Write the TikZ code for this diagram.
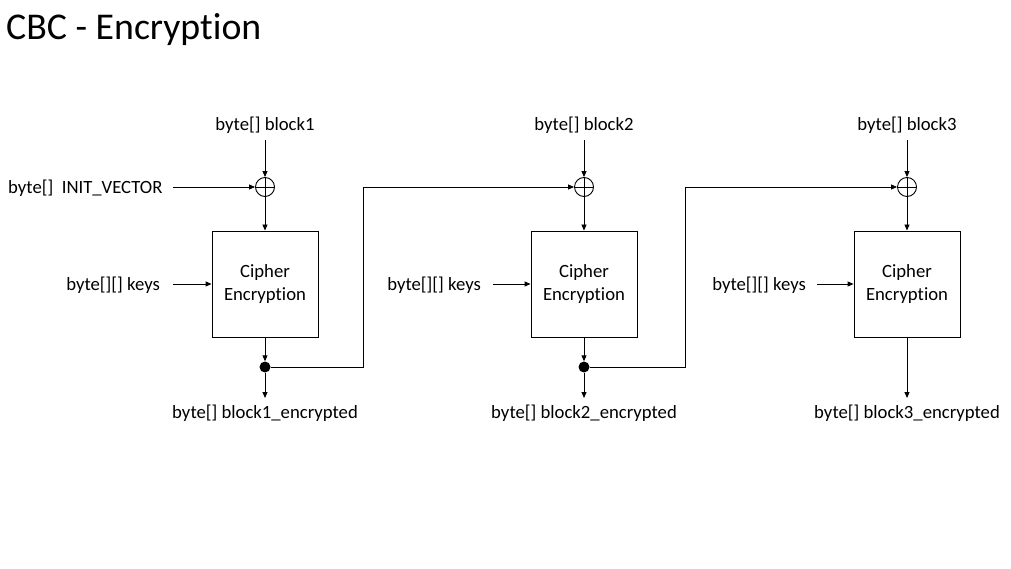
\documentclass[tikz,border=0pt]{standalone}
\usepackage{fontspec}
\setmainfont{Carlito}[Ligatures=NoCommon]
\usetikzlibrary{arrows.meta}
\begin{document}
\begin{tikzpicture}[x=1pt,y=-1pt,
  lbl/.style={font=\fontsize{18.7}{22}\selectfont, inner sep=0pt},
  cipher/.style={draw, line width=0.9pt, minimum width=106pt, minimum height=106pt,
    align=center, font=\fontsize{18.7}{23}\selectfont},
  xorop/.style={draw, circle, line width=0.9pt, minimum size=19pt, inner sep=0pt,
    path picture={\draw[line width=0.9pt] (path picture bounding box.north) -- (path picture bounding box.south)
      (path picture bounding box.west) -- (path picture bounding box.east);}},
  junction/.style={circle, fill=black, inner sep=0pt, minimum size=11pt},
  arr/.style={line width=0.9pt, -{Triangle[length=6pt,width=5pt]}}]
\useasboundingbox (0,0) rectangle (1011,569);

% title
\node[anchor=west, inner sep=0pt, font=\fontsize{37.8}{44}\selectfont] (title) at (6,30) {CBC - Encryption};

% stage 1
\node[lbl] (in1) at (265,125) {byte[] block1};
\node[xorop] (x1) at (265,187) {};
\node[lbl, anchor=west] (iv) at (8,188) {byte[]\ \ INIT\_VECTOR};
\node[cipher] (c1) at (265,284) {Cipher\\Encryption};
\node[lbl, anchor=east] (k1) at (160,285) {byte[][] keys};
\node[junction] (d1) at (265,367) {};
\node[lbl] (o1) at (265,413) {byte[] block1\_encrypted};

% stage 2
\node[lbl] (in2) at (584,125) {byte[] block2};
\node[xorop] (x2) at (584,187) {};
\node[cipher] (c2) at (584,284) {Cipher\\Encryption};
\node[lbl, anchor=east] (k2) at (481,285) {byte[][] keys};
\node[junction] (d2) at (584,367) {};
\node[lbl] (o2) at (584,413) {byte[] block2\_encrypted};

% stage 3
\node[lbl] (in3) at (907,125) {byte[] block3};
\node[xorop] (x3) at (907,187) {};
\node[cipher] (c3) at (907,284) {Cipher\\Encryption};
\node[lbl, anchor=east] (k3) at (806,285) {byte[][] keys};
\node[lbl] (o3) at (907,413) {byte[] block3\_encrypted};

% free ends of the short arrows
\coordinate (s1) at (265,140);
\coordinate (s2) at (584,140);
\coordinate (s3) at (907,140);
\coordinate (sv) at (173,187);
\coordinate (sk1) at (173,284);
\coordinate (sk2) at (493,284);
\coordinate (sk3) at (817,284);
\coordinate (e1) at (265,398);
\coordinate (e2) at (584,398);
\coordinate (e3) at (907,398);

% bend points of the chaining wires
\coordinate (b1) at (363,367);
\coordinate (b2) at (685,367);

% connectors
\draw[arr] (s1) -- (x1.north);
\draw[arr] (sv) -- (x1.west);
\draw[arr] (x1.south) -- (c1.north);
\draw[arr] (sk1) -- (c1.west);
\draw[arr] (c1.south) -- (d1.north);
\draw[arr] (d1.south) -- (e1);
\draw[arr] (d1.east) -- (b1) |- (x2.west);

\draw[arr] (s2) -- (x2.north);
\draw[arr] (x2.south) -- (c2.north);
\draw[arr] (sk2) -- (c2.west);
\draw[arr] (c2.south) -- (d2.north);
\draw[arr] (d2.south) -- (e2);
\draw[arr] (d2.east) -- (b2) |- (x3.west);

\draw[arr] (s3) -- (x3.north);
\draw[arr] (x3.south) -- (c3.north);
\draw[arr] (sk3) -- (c3.west);
\draw[arr] (c3.south) -- (e3);
\end{tikzpicture}
\end{document}
